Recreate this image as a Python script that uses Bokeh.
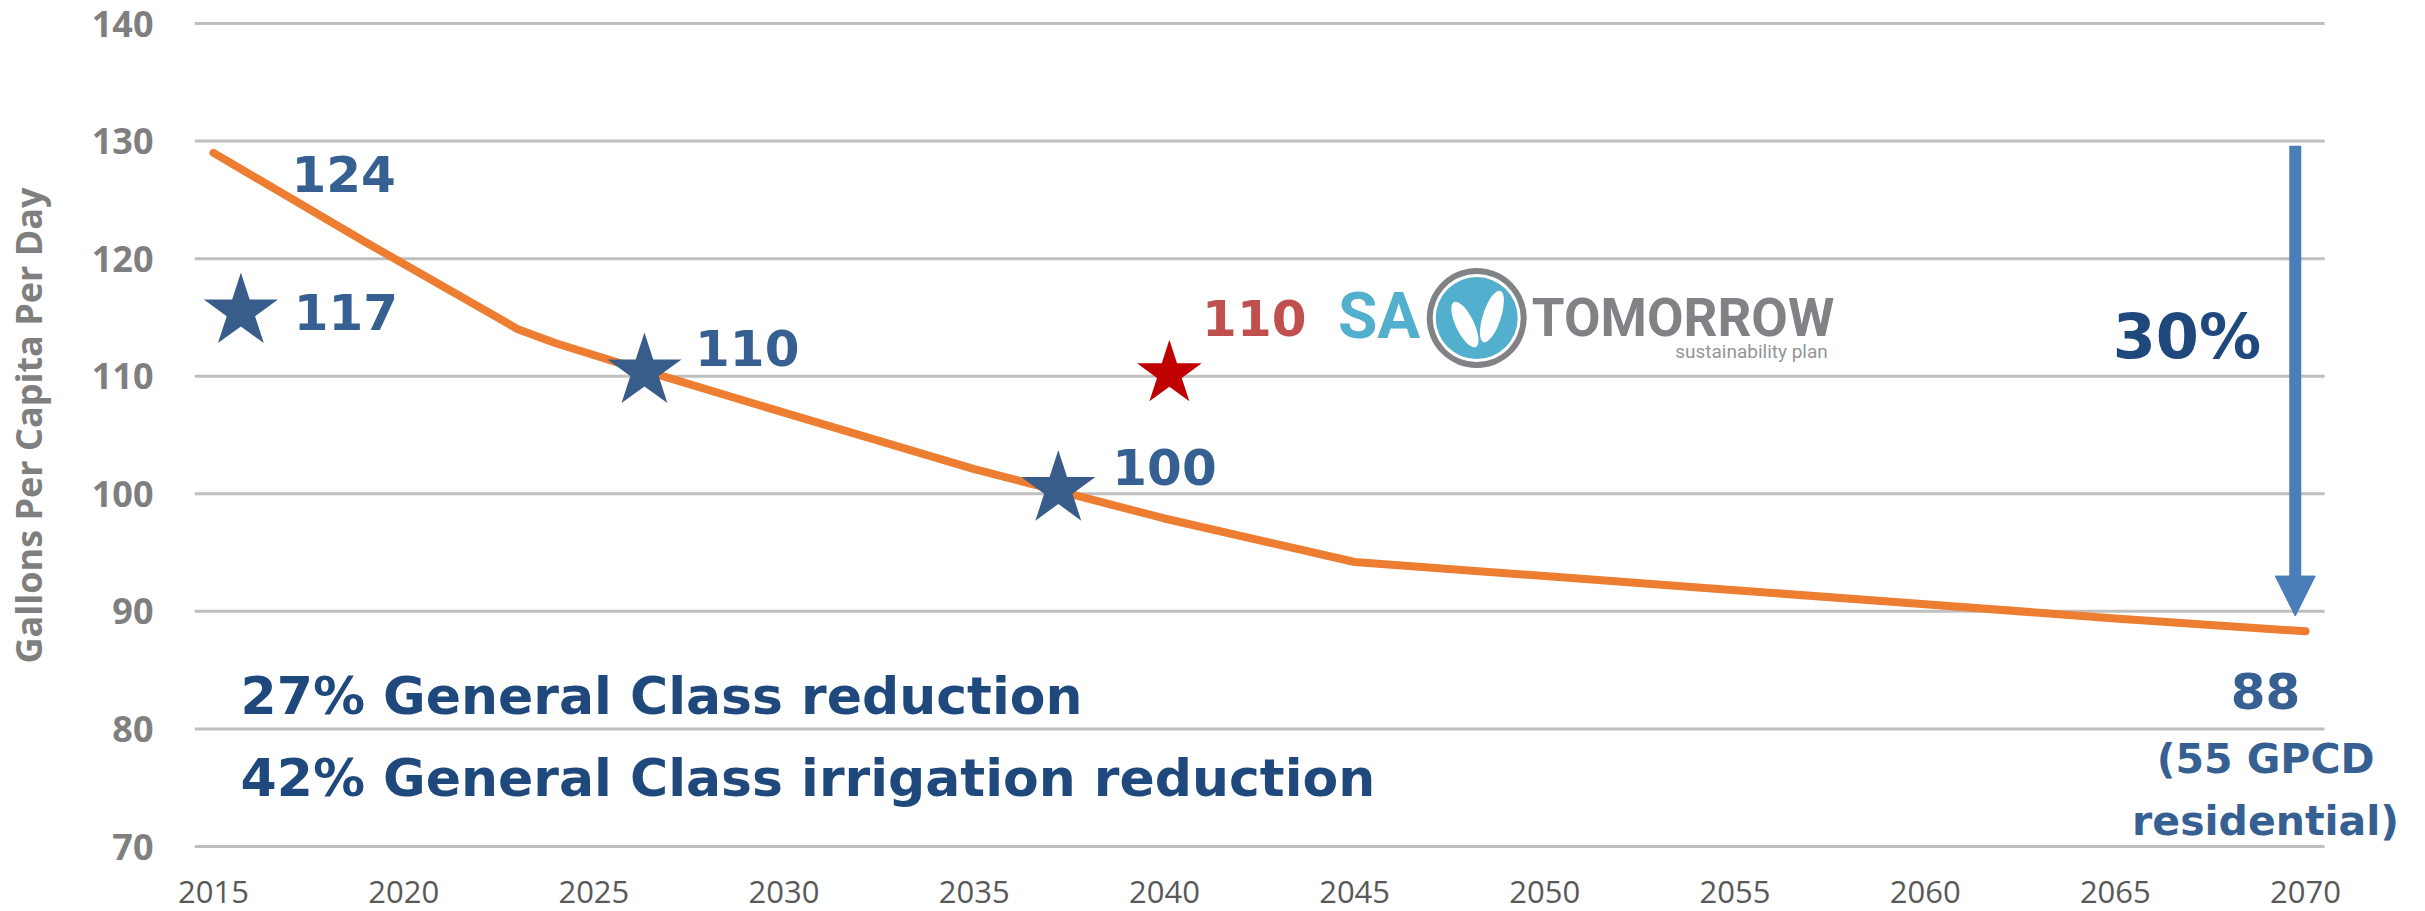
from bokeh.plotting import figure
from bokeh.models import Label, FixedTicker, Arrow, NormalHead
from bokeh.embed import file_html
from bokeh.resources import INLINE
import math

# ---------------- data ----------------
years = [2015, 2019, 2023, 2024, 2026, 2030, 2035, 2040, 2045, 2050, 2055, 2060, 2065, 2070]
gpcd = [129.0, 121.4, 114.0, 112.8, 110.8, 106.9, 102.1, 97.9, 94.2, 93.0, 91.8, 90.6, 89.4, 88.3]

star_years = [2015.72, 2026.33, 2037.21]
star_values = [115.5, 110.4, 100.4]
goal_year = [2040.13]
goal_value = [110.2]

x_ticks = [2015, 2020, 2025, 2030, 2035, 2040, 2045, 2050, 2055, 2060, 2065, 2070]
y_ticks = [70, 80, 90, 100, 110, 120, 130, 140]

arrow_year = 2069.73
arrow_from = 129.6
arrow_to = 89.6

# ---------------- layout ----------------
W, H = 2425, 911
left_border = 193
bottom_border = 61
px_per_year = 2131 / 56.0
px_per_unit = 823 / 70.0
x_start = 2014.5
x_end = x_start + (W - left_border) / px_per_year
y_end = 140 + 23 / px_per_unit
y_start = 70 - (H - bottom_border - 846) / px_per_unit

p = figure(width=W, height=H, x_range=(x_start, x_end), y_range=(y_start, y_end),
           output_backend="svg", toolbar_location=None,
           min_border_left=left_border, min_border_right=0, min_border_top=0,
           min_border_bottom=bottom_border)
p.outline_line_color = None
p.background_fill_color = "white"
p.xgrid.visible = False
p.ygrid.visible = False

for ax in (p.xaxis, p.yaxis):
    ax.axis_line_color = None
    ax.major_tick_line_color = None
    ax.minor_tick_line_color = None
    ax.major_tick_out = 0
    ax.major_tick_in = 0

p.xaxis.ticker = FixedTicker(ticks=x_ticks)
p.xaxis.major_label_text_font = "Open Sans"
p.xaxis.major_label_text_font_size = "31px"
p.xaxis.major_label_text_color = "#595959"
p.xaxis.major_label_standoff = 30

p.yaxis.ticker = FixedTicker(ticks=y_ticks)
p.yaxis.major_label_text_font = "Open Sans"
p.yaxis.major_label_text_font_style = "bold"
p.yaxis.major_label_text_font_size = "36px"
p.yaxis.major_label_text_color = "#7F7F7F"
p.yaxis.major_label_standoff = 41
p.yaxis.axis_label = "Gallons Per Capita Per Day"
p.yaxis.axis_label_text_font = "Open Sans"
p.yaxis.axis_label_text_font_style = "bold"
p.yaxis.axis_label_text_font_size = "36px"
p.yaxis.axis_label_text_color = "#7F7F7F"
p.yaxis.axis_label_standoff = 36

# horizontal gridlines limited to the category span
p.segment(x0=[x_start] * len(y_ticks), y0=y_ticks, x1=[x_ticks[-1] + 0.5] * len(y_ticks), y1=y_ticks,
          line_color="#BFBFBF", line_width=3)

# ---------------- main line ----------------
p.line(years, gpcd, line_color="#ED7D31", line_width=8, line_cap="round", line_join="round")

# ---------------- stars ----------------
p.scatter(star_years, star_values, marker="star", size=78, fill_color="#385D8A", line_color=None)
p.scatter(goal_year, goal_value, marker="star", size=68, fill_color="#C00000", line_color=None)

# ---------------- arrow ----------------
arrow_color = "#4A7EBB"
p.add_layout(Arrow(end=NormalHead(size=40, fill_color=arrow_color, line_color=arrow_color, line_width=1),
                   x_start=arrow_year, y_start=arrow_from, x_end=arrow_year, y_end=arrow_to,
                   line_color=arrow_color, line_width=12))

# ---------------- logo ----------------
logo_x, logo_y = 2048.21, 114.95
p.scatter([logo_x], [logo_y], marker="circle", size=100, fill_color="#808285", line_color=None)
p.scatter([logo_x], [logo_y], marker="circle", size=88, fill_color="white", line_color=None)
p.scatter([logo_x], [logo_y], marker="circle", size=82, fill_color="#52AFCD", line_color=None)
p.ellipse(x=[2047.90, 2048.61], y=[114.40, 115.08], width=[50, 54], height=[18, 18],
          width_units="screen", height_units="screen",
          angle=[math.radians(116), math.radians(72)], fill_color="white", line_color=None)


def add_label(x, y, text, size, color, font="DejaVu Sans", style="bold", align="left"):
    p.add_layout(Label(x=x, y=y, text=text, text_font=font, text_font_size=size,
                       text_font_style=style, text_color=color, text_align=align,
                       text_baseline="middle"))


add_label(2044.56, 115.06, "SA", "64px", "#52AFCD", font="Roboto")
add_label(2049.66, 114.93, "TOMORROW", "53px", "#808285", font="Roboto")
add_label(2057.44, 112.1, "sustainability plan", "19px", "#939598", font="Roboto",
          style="normal", align="right")

# ---------------- annotations ----------------
blue = "#376092"
dark = "#1F497D"
add_label(2017.05, 127.21, "124", "50px", blue)
add_label(2017.11, 115.46, "117", "50px", blue)
add_label(2027.66, 112.42, "110", "50px", blue)
add_label(2038.63, 102.29, "100", "50px", blue)
add_label(2040.99, 114.91, "110", "50px", "#C0504D")
add_label(2064.93, 113.41, "30%", "62px", dark)
add_label(2068.95, 83.22, "88", "50px", blue, align="center")
add_label(2068.95, 77.48, "(55 GPCD", "41px", blue, align="center")
add_label(2068.95, 72.13, "residential)", "41px", blue, align="center")
add_label(2015.71, 82.80, "27% General Class reduction", "52px", dark)
add_label(2015.71, 75.83, "42% General Class irrigation reduction", "52px", dark)

open("out.html", "w").write(file_html(p, INLINE))
